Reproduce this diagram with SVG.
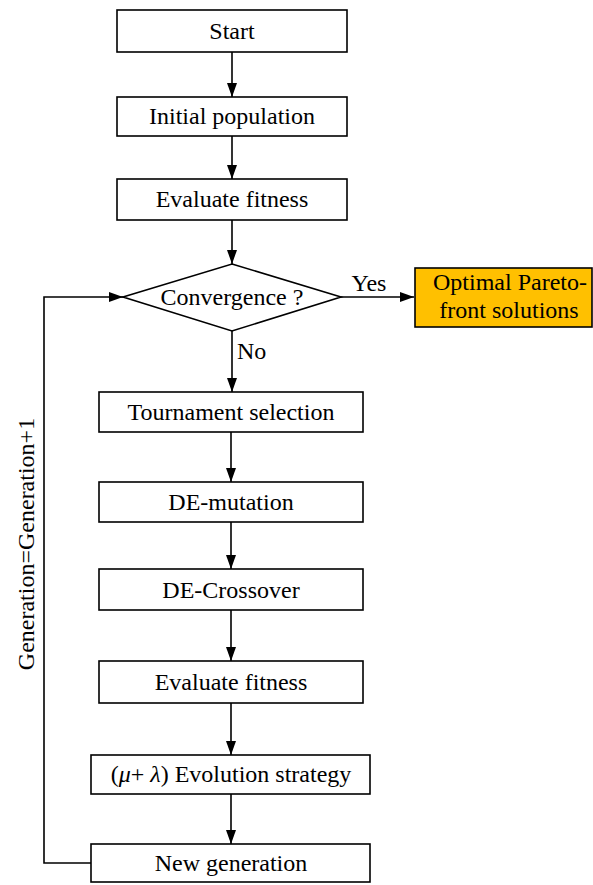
<svg xmlns="http://www.w3.org/2000/svg" width="593" height="885" viewBox="0 0 593 885">
<defs>
<marker id="av" viewBox="0 0 14 10" refX="14" refY="5" markerWidth="14" markerHeight="10" markerUnits="userSpaceOnUse" orient="auto">
<path d="M0,0 L14,5 L0,10 Z" fill="#000"/>
</marker>
</defs>
<g id="connectors" fill="none" stroke="#000" stroke-width="1.6">
<line x1="232" y1="52" x2="232" y2="97" marker-end="url(#av)"/>
<line x1="232" y1="136" x2="232" y2="179" marker-end="url(#av)"/>
<line x1="232" y1="220" x2="232" y2="264" marker-end="url(#av)"/>
<line x1="341" y1="297" x2="414" y2="297" marker-end="url(#av)"/>
<line x1="232" y1="331" x2="232" y2="392" marker-end="url(#av)"/>
<line x1="231" y1="432" x2="231" y2="482" marker-end="url(#av)"/>
<line x1="231" y1="522" x2="231" y2="569" marker-end="url(#av)"/>
<line x1="231" y1="610" x2="231" y2="661" marker-end="url(#av)"/>
<line x1="231" y1="703" x2="231" y2="755" marker-end="url(#av)"/>
<line x1="231" y1="794" x2="231" y2="844" marker-end="url(#av)"/>
<polyline points="91,863 44,863 44,297 123,297" marker-end="url(#av)"/>
</g>
<g id="labels">
<text x="369" y="291" text-anchor="middle" font-family="Liberation Serif" font-size="24">Yes</text>
<text x="237" y="359" font-family="Liberation Serif" font-size="24">No</text>
<text transform="translate(34,544) rotate(-90)" text-anchor="middle" font-family="Liberation Serif" font-size="24">Generation=Generation+1</text>
</g>
<g id="start"><rect x="117" y="10" width="230" height="42" fill="#fff" stroke="#000" stroke-width="1.6"/><text x="232" y="39" text-anchor="middle" font-family="Liberation Serif" font-size="24">Start</text></g>
<g id="init"><rect x="117" y="97" width="230" height="39" fill="#fff" stroke="#000" stroke-width="1.6"/><text x="232" y="124" text-anchor="middle" font-family="Liberation Serif" font-size="24">Initial population</text></g>
<g id="eval1"><rect x="117" y="179" width="230" height="41" fill="#fff" stroke="#000" stroke-width="1.6"/><text x="232" y="207" text-anchor="middle" font-family="Liberation Serif" font-size="24">Evaluate fitness</text></g>
<g id="conv"><polygon points="232,264 341,297 232,331 123,297" fill="#fff" stroke="#000" stroke-width="1.6"/><text x="232" y="305" text-anchor="middle" font-family="Liberation Serif" font-size="24">Convergence ?</text></g>
<g id="optimal"><rect x="415" y="268" width="177" height="59" fill="#FFC000" stroke="#000" stroke-width="1.6"/><text x="510" y="290" text-anchor="middle" font-family="Liberation Serif" font-size="24">Optimal Pareto-</text><text x="509" y="318" text-anchor="middle" font-family="Liberation Serif" font-size="24">front solutions</text></g>
<g id="tourn"><rect x="99" y="392" width="264" height="40" fill="#fff" stroke="#000" stroke-width="1.6"/><text x="231" y="420" text-anchor="middle" font-family="Liberation Serif" font-size="24">Tournament selection</text></g>
<g id="mut"><rect x="99" y="482" width="264" height="40" fill="#fff" stroke="#000" stroke-width="1.6"/><text x="231" y="510" text-anchor="middle" font-family="Liberation Serif" font-size="24">DE-mutation</text></g>
<g id="cross"><rect x="99" y="569" width="264" height="41" fill="#fff" stroke="#000" stroke-width="1.6"/><text x="231" y="598" text-anchor="middle" font-family="Liberation Serif" font-size="24">DE-Crossover</text></g>
<g id="eval2"><rect x="99" y="661" width="264" height="42" fill="#fff" stroke="#000" stroke-width="1.6"/><text x="231" y="690" text-anchor="middle" font-family="Liberation Serif" font-size="24">Evaluate fitness</text></g>
<g id="es"><rect x="91" y="755" width="279" height="39" fill="#fff" stroke="#000" stroke-width="1.6"/><text x="231" y="782" text-anchor="middle" font-family="Liberation Serif" font-size="24">(<tspan font-style="italic">μ</tspan>+ <tspan font-style="italic">λ</tspan>) Evolution strategy</text></g>
<g id="newgen"><rect x="91" y="844" width="279" height="38" fill="#fff" stroke="#000" stroke-width="1.6"/><text x="231" y="871" text-anchor="middle" font-family="Liberation Serif" font-size="24">New generation</text></g>
</svg>
